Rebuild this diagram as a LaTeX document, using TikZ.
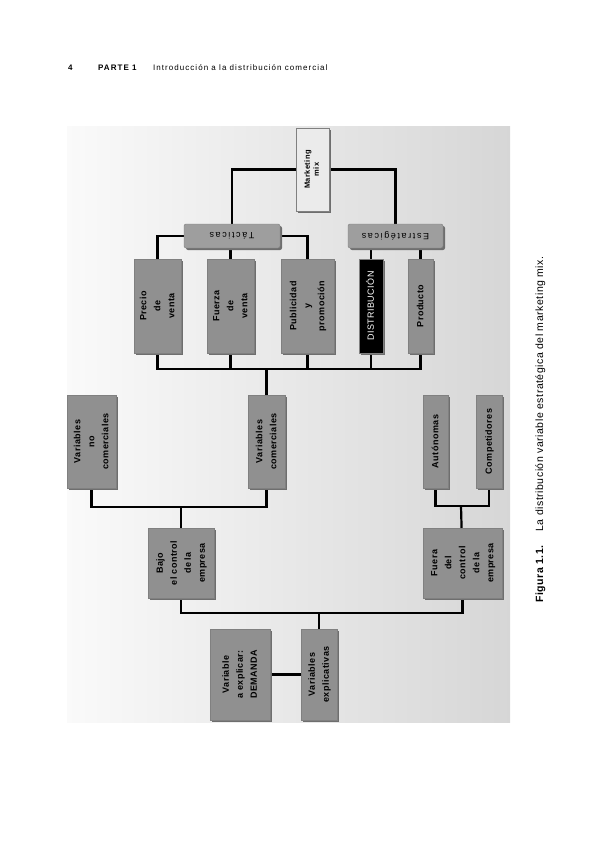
\documentclass[tikz,border=0pt]{standalone}
\usepackage{fontspec}
\setmainfont[LetterSpace=5]{Liberation Sans}
\newfontfamily\widefont[LetterSpace=18]{Liberation Sans}
\newfontfamily\headfont[LetterSpace=13]{Liberation Sans}
\usepackage{tikz}
\usetikzlibrary{positioning, shadows, backgrounds}
\usepackage{xcolor}
\definecolor{boxgray}{HTML}{909090}
\definecolor{lightbox}{HTML}{EBEBEB}
\definecolor{shade}{HTML}{6E6E6E}

\newcommand{\vlab}[1]{\rotatebox{90}{\begin{tabular}{@{}c@{}}#1\end{tabular}}}

\begin{document}
\begin{tikzpicture}[
    x=1pt, y=-1pt,
    box/.style={rectangle, draw=black!50, fill=boxgray, inner sep=0pt,
                font=\fontsize{9}{14}\selectfont\bfseries,
                drop shadow={shadow xshift=2pt, shadow yshift=-2pt,
                             fill=shade, opacity=1}},
    mixbox/.style={box, fill=lightbox, font=\fontsize{7.5}{9}\selectfont\bfseries},
    groupbox/.style={box, rounded corners=2pt, fill=black!38,
                     font=\widefont\fontsize{9}{11}\selectfont},
    distbox/.style={box, fill=black, text=white,
                    font=\fontsize{9}{14}\selectfont},
    link/.style={line width=2.2pt, black},
    head/.style={anchor=base west, inner sep=0pt,
                 font=\headfont\fontsize{8}{10}\selectfont},
  ]
    \useasboundingbox (0,0) rectangle (600,848);

    % page header
    \node[head] (pagenum) at (68,71) {\bfseries 4};
    \node[head] (parte)   at (98,71) {\bfseries PARTE 1};
    \node[head] (title)   at (153,71) {Introducción a la distribución comercial};

    % marketing mix and its two groups
    \node[mixbox, minimum width=33pt, minimum height=83pt] (mix) at (312.5,169.5)
      {\vlab{Marketing\\mix}};
    \node[groupbox, minimum width=96pt, minimum height=24pt] (tact) at (232,236)
      {\rotatebox{180}{Tácticas}};
    \node[groupbox, minimum width=95pt, minimum height=24pt] (estr) at (395.5,236)
      {\rotatebox{180}{Estratégicas}};

    \node[box, minimum width=47pt, minimum height=94pt] (precio) at (157.5,306)
      {\vlab{Precio\\de\\venta}};
    \node[box, minimum width=47pt, minimum height=94pt] (fuerza) at (230.5,306)
      {\vlab{Fuerza\\de\\venta}};
    \node[box, minimum width=53pt, minimum height=94pt] (publi) at (307.5,306)
      {\vlab{Publicidad\\y\\promoción}};
    \node[distbox, minimum width=24pt, minimum height=94pt] (dist) at (371,306)
      {\vlab{DISTRIBUCIÓN}};
    \node[box, minimum width=25pt, minimum height=94pt] (prod) at (420.5,306)
      {\vlab{Producto}};

    % variables
    \node[box, minimum width=49pt, minimum height=93pt] (varnc) at (91.5,441.5)
      {\vlab{Variables\\no\\comerciales}};
    \node[box, minimum width=37pt, minimum height=93pt] (varcom) at (266.5,441.5)
      {\vlab{Variables\\comerciales}};
    \node[box, minimum width=25pt, minimum height=93pt] (auto) at (435.5,441.5)
      {\vlab{Autónomas}};
    \node[box, minimum width=26pt, minimum height=93pt] (comp) at (489,441.5)
      {\vlab{Competidores}};

    \node[box, minimum width=66pt, minimum height=70pt] (bajo) at (181,563)
      {\vlab{Bajo\\el control\\de la\\empresa}};
    \node[box, minimum width=79pt, minimum height=70pt] (fuera) at (462.5,563)
      {\vlab{Fuera\\del\\control\\de la\\empresa}};

    \node[box, minimum width=36pt, minimum height=91pt] (varexp) at (319,674.5)
      {\vlab{Variables\\explicativas}};
    \node[box, minimum width=60pt, minimum height=91pt] (dem) at (240,674.5)
      {\vlab{Variable\\a explicar:\\DEMANDA}};

    % caption
    \node[rotate=90, anchor=base west, inner sep=0pt,
          font=\fontsize{10.5}{12}\selectfont] (caption) at (543,603)
      {\textbf{Figura 1.1.}\hspace{1.3em}La distribución variable estratégica del marketing mix.};

    \coordinate (bus1) at (266.5,369);
    \coordinate (bus2) at (181,507);
    \coordinate (bus3) at (461,506);
    \coordinate (bus4) at (319,613);

    \begin{scope}[on background layer]
      \fill[left color=black!2, right color=black!16] (67,127) rectangle (510,722);

      \draw[link] (mix) -| (tact);
      \draw[link] (mix) -| (estr);
      \draw[link] (tact) -| (precio);
      \draw[link] (tact) -| (publi);
      \draw[link] (fuerza) -- (fuerza |- tact);
      \draw[link] (dist) -- (dist |- estr);
      \draw[link] (prod) -- (prod |- estr);

      \foreach \n in {precio, fuerza, publi, dist, prod}
        \draw[link] (\n) |- (bus1);
      \draw[link] (bus1) -- (varcom);

      \foreach \n in {varnc, varcom}
        \draw[link] (\n) |- (bus2);
      \draw[link] (bus2) -- (bajo);
      \foreach \n in {auto, comp}
        \draw[link] (\n) |- (bus3);
      \draw[link] (bus3) -- (fuera);

      \foreach \n in {bajo, fuera}
        \draw[link] (\n) |- (bus4);
      \draw[link] (bus4) -- (varexp);
      \draw[link] (dem) -- (varexp);
    \end{scope}
\end{tikzpicture}
\end{document}
